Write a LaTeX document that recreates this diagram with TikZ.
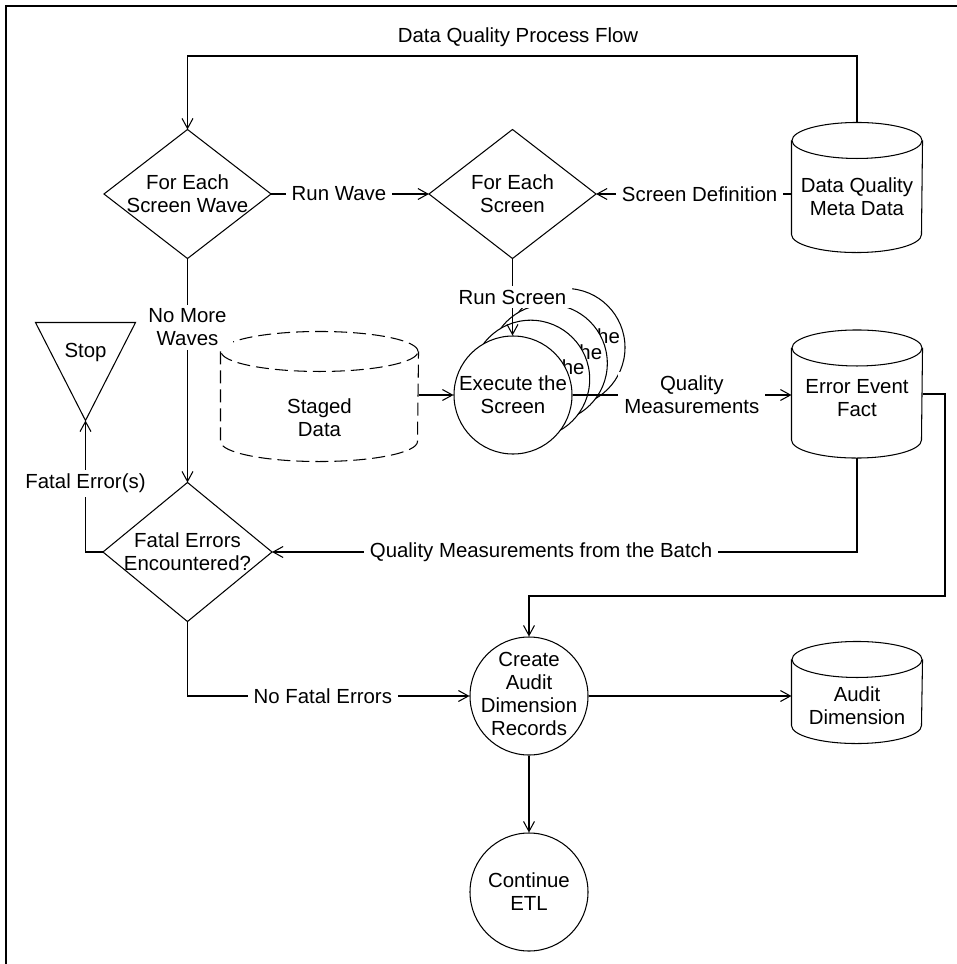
\documentclass[tikz,border=0pt]{standalone}
\usepackage{fontspec}
\setmainfont{Liberation Sans}
\usetikzlibrary{arrows.meta,calc}
\newcommand{\cylout}[4][]{%
  \draw[#1] ([yshift=-#4pt]#2.north west) -- ([yshift=#4pt]#2.south west)
    arc[start angle=180,end angle=360,x radius=#3pt,y radius=#4pt]
    -- ([yshift=-#4pt]#2.north east);
  \draw[#1] ([yshift=-#4pt]#2.north) ellipse[x radius=#3pt,y radius=#4pt];
}
\newcommand{\diaout}[1]{\draw (#1.north) -- (#1.east) -- (#1.south) -- (#1.west) -- cycle;}
\begin{document}
\begin{tikzpicture}[x=1pt,y=-1pt,
  font=\fontsize{20.4}{23}\selectfont,
  line width=1.05pt,
  arr/.style={-{Straight Barb[length=10pt,width=11pt]}},
  box/.style={rectangle,inner sep=0pt,align=center},
  txt/.style={inner sep=0pt,align=center},
  circ/.style={circle,draw,fill=white,minimum size=118pt,inner sep=0pt,align=center},
  lbl/.style={fill=white,inner xsep=6pt,inner ysep=4pt,align=center},
]
\useasboundingbox (0,0) rectangle (957,964);
\draw[line width=1.6pt] (957,6) -- (6,6) -- (6,964);

% title
\node[txt] (title) at (518,37) {Data Quality Process Flow};

% diamonds
\node[box,minimum width=166pt,minimum height=128pt] (d1) at (187.5,194) {For Each\\Screen Wave};
\node[box,minimum width=166pt,minimum height=128pt] (d2) at (512.5,194) {For Each\\Screen};
\node[box,minimum width=168pt,minimum height=138pt] (d3) at (187.5,552) {Fatal Errors\\Encountered?};
\diaout{d1}
\diaout{d2}
\diaout{d3}

% cylinders
\node[box,minimum width=130pt,minimum height=129pt] (dq) at (857,187.5) {};
\node[txt] (dqtext) at (857,197) {Data Quality\\Meta Data};
\cylout{dq}{65}{18}
\node[box,minimum width=130pt,minimum height=127pt] (err) at (857,394) {};
\node[txt] (errtext) at (857,398.5) {Error Event\\Fact};
\cylout{err}{65}{18}
\node[box,minimum width=130pt,minimum height=101pt] (audit) at (857,692.5) {};
\node[txt] (audittext) at (857,706) {Audit\\Dimension};
\cylout{audit}{65}{18}
\node[box,minimum width=197pt,minimum height=129pt] (staged) at (319.5,396.5) {};
\node[txt] (stagedtext) at (319.5,418) {Staged\\Data};
\cylout[dash pattern=on 13pt off 6pt]{staged}{98.5}{20}

% stop triangle
\node[box,minimum width=99pt,minimum height=97pt] (stop) at (85.5,371.5) {};
\node[txt] (stoptext) at (85.5,352) {Stop};
\draw (stop.north west) -- (stop.north east) -- (stop.south) -- cycle;

% stacked execute circles
\node[circ] (exec4) at (566,347.5) {Execute the\\Screen};
\node[circ] (exec3) at (548.3,363.3) {Execute the\\Screen};
\node[circ] (exec2) at (530.7,379.2) {Execute the\\Screen};
\node[circ] (exec) at (513,395) {Execute the\\Screen};

% audit and continue circles
\node[circ] (create) at (529,696) {};
\node[txt] (createtxt) at (529,694) {Create\\Audit\\Dimension\\Records};
\node[circ] (cont) at (529,892) {Continue\\ETL};

% route points
\coordinate (loopT) at (520,56);
\coordinate (loopR) at (945,596);

% connectors
\draw[arr] (dq.north) |- (loopT) -| (d1.north);
\draw[arr] (d1.east) -- node[lbl,pos=0.43]{Run Wave} (d2.west);
\draw[arr] (dq.west |- d2.east) -- node[lbl,pos=0.47]{Screen Definition} (d2.east);
\draw[arr] (d2.south) -- node[lbl,pos=0.5]{Run Screen} (d2.south |- exec.north);
\draw[arr] (staged.east |- exec.west) -- (exec.west);
\draw[arr] (exec.east) -- node[lbl,pos=0.545]{Quality\\Measurements} (err.west |- exec.east);
\draw[arr] (err.east) -| (loopR) -| (create.north);
\draw[arr] (err.south) |- node[lbl,pos=0.77]{Quality Measurements from the Batch} (d3.east);
\draw[arr] (d1.south) -- node[lbl,pos=0.307]{No More\\Waves} (d3.north);
\draw[arr] (d3.west) -| node[lbl,pos=0.76]{Fatal Error(s)} (stop.south);
\draw[arr] (d3.south) |- node[lbl,pos=0.74]{No Fatal Errors} (create.west);
\draw[arr] (create.east) -- (audit.west |- create.east);
\draw[arr] (create.south) -- (cont.north);
\end{tikzpicture}
\end{document}
